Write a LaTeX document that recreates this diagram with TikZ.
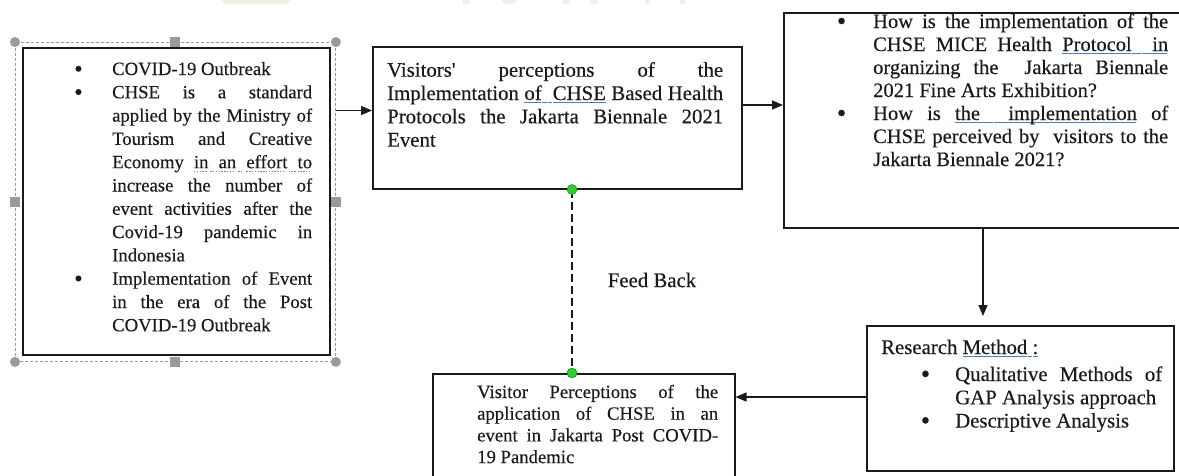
\documentclass[tikz,border=0pt]{standalone}
\usepackage{fontspec}
\setmainfont{Liberation Serif}[Ligatures=TeXOff, FakeBold=0.3]
\usetikzlibrary{arrows.meta}
\definecolor{ink}{HTML}{1A1A1A}
\definecolor{gblue}{HTML}{4F7FBF}
\definecolor{gdotc}{HTML}{7A7AC0}
\definecolor{hgray}{HTML}{9A9A9A}
\definecolor{dotgreen}{HTML}{2ECC2E}
\definecolor{wmark}{HTML}{F3EDE3}
% underline marks (no ulem available)
\newcommand\GM{\hbox{{\color{gblue}\rule[-3.2pt]{1pt}{1.1pt}}}}
\newcommand\DM{\hbox{{\color{gdotc}\rule[-3.4pt]{1.4pt}{0.9pt}}\kern1.4pt}}
\newcommand\uw[2]{\setbox0=\hbox{#2}\rlap{\hbox to\wd0{\leaders#1\hfil}}\box0\relax}
\newcommand\us[1]{\leaders#1\hskip\fontdimen2\font plus\fontdimen3\font minus\fontdimen4\font\relax}
\newcommand\J[1]{\hbox to\hsize{#1}}
\newcommand\R[1]{\hbox{#1}}
\newcommand\Lines[2]{\vtop{\hsize=#1\relax\parindent=0pt\parskip=0pt #2}}
\newcommand\bul[1]{\llap{\raisebox{-1.8pt}{\scalebox{1.3}{•}}\kern#1}}
\tikzset{
  boxn/.style={draw=ink, line width=1.5pt, inner sep=0pt, anchor=north west, fill=none},
  txtA/.style={font=\fontsize{18.7pt}{23.3pt}\selectfont, inner sep=0pt, anchor=base west, text=ink},
  txtB/.style={font=\fontsize{20.8pt}{23.3pt}\selectfont, inner sep=0pt, anchor=base west, text=ink},
  txtD/.style={font=\fontsize{20.5pt}{23pt}\selectfont, inner sep=0pt, anchor=base west, text=ink},
  txtC/.style={font=\fontsize{18.7pt}{21.7pt}\selectfont, inner sep=0pt, anchor=base west, text=ink},
  arr/.style={draw=ink, line width=1.3pt, -{Triangle[length=11pt,width=9pt]}},
  fbline/.style={draw=ink, line width=1.2pt, dash pattern=on 8pt off 4pt},
  gdot/.style={circle, fill=dotgreen, draw=green!50!black, line width=0.4pt, minimum size=10pt, inner sep=0pt},
  hcirc/.style={circle, fill=hgray, minimum size=10pt, inner sep=0pt},
  hsq/.style={rectangle, fill=hgray, minimum size=10pt, inner sep=0pt},
  selframe/.style={draw=hgray, line width=0.9pt, dash pattern=on 3pt off 2pt, inner sep=0pt, anchor=north west},
}
\begin{document}
\begin{tikzpicture}[x=1pt,y=-1pt]
\useasboundingbox (0,0) rectangle (1179,475);
\fill[white] (0,0) rectangle (1179,475);
\clip (0,0) rectangle (1179,475);
% faint watermark slivers at the top edge
\fill[wmark] (222,0) -- (290,0) -- (287,3.5) -- (225,3.5) -- cycle;
\fill[wmark] (463,0) rectangle (470,3.5);
\fill[wmark] (502,0) -- (517,0) -- (514,3.5) -- (505,3.5) -- cycle;
\fill[wmark] (563,0) rectangle (570,3.5);
\fill[wmark] (590,0) rectangle (598,3.5);
\fill[wmark] (645,0) rectangle (650,3.5);
\fill[wmark] (680,0) rectangle (685,3.5);

% selection frame around box 1
\node[selframe, minimum width=320pt, minimum height=319pt] (sel) at (15,42) {};
% boxes
\node[boxn, minimum width=307pt, minimum height=307pt, line width=1.8pt] (b1) at (22,47) {};
\node[boxn, minimum width=369pt, minimum height=142pt] (b2) at (372,46) {};
\node[boxn, minimum width=410pt, minimum height=215pt] (b3) at (783,12) {};
\node[boxn, minimum width=307pt, minimum height=145pt] (b4) at (866,325) {};
\node[boxn, minimum width=302pt, minimum height=115pt] (b5) at (432,373) {};

% handles
\node[hcirc] (h1) at (sel.north west) {};
\node[hcirc] (h2) at (sel.north east) {};
\node[hcirc] (h3) at (sel.south west) {};
\node[hcirc] (h4) at (sel.south east) {};
\node[hsq] (h5) at (sel.north) {};
\node[hsq] (h6) at (sel.south) {};
\node[hsq] (h7) at (sel.west) {};
\node[hsq] (h8) at (sel.east) {};

% texts
\node[txtA] (t1) at (112,75) {\Lines{200pt}{%
\R{\bul{29.5pt}COVID-19 Outbreak}
\J{\bul{29.5pt}CHSE is a standard}
\J{applied by the Ministry of}
\J{Tourism and Creative}
\J{Economy \uw\DM{in}\us\DM\uw\DM{an}\us\DM\uw\DM{effort}\us\DM\uw\DM{to}}
\J{increase the number of}
\J{event activities after the}
\J{Covid-19 pandemic in}
\R{Indonesia}
\J{\bul{29.5pt}Implementation of Event}
\J{in the era of the Post}
\R{COVID-19 Outbreak}}};

\node[txtB] (t2) at (387,76.7) {\Lines{336pt}{%
\J{Visitors' perceptions of the}
\J{Implementation \uw\GM{of}\us\GM\us\GM\uw\GM{CHSE} Based Health}
\J{Protocols the Jakarta Biennale 2021}
\R{Event}}};

\node[txtD] (t3) at (873,28) {\Lines{295pt}{%
\J{\bul{27pt}How is the implementation of the}
\J{CHSE MICE Health \uw\GM{Protocol}\us\GM\us\GM\uw\GM{in}}
\J{organizing the\ \ Jakarta Biennale}
\R{2021 Fine Arts Exhibition?}
\J{\bul{27pt}How is \uw\GM{the}\us\GM\us\GM\uw\GM{implementation} of}
\J{CHSE perceived by\ \ visitors to the}
\R{Jakarta Biennale 2021?}}};

\node[txtB] (t4a) at (881,354) {Research \uw\GM{Method}\us\GM\uw\GM{:}};
\node[txtB] (t4b) at (955,381) {\Lines{207pt}{%
\J{\bul{25pt}Qualitative Methods of}
\R{GAP Analysis approach}}};
\node[txtB] (t4c) at (955,427.5) {\bul{25pt}Descriptive Analysis};

\node[txtC] (t5) at (477,398) {\Lines{241pt}{%
\J{Visitor Perceptions of the}
\J{application of CHSE in an}
\J{event in Jakarta Post COVID-}
\R{19 Pandemic}}};

\node[txtB, anchor=center] (fb) at (652,280) {Feed Back};

% connectors
\coordinate (y12) at (0,110.5);
\draw[arr] (sel.east |- y12) -- (b2.west |- y12);
\coordinate (y23) at (0,105);
\draw[arr] (b2.east |- y23) -- (b3.west |- y23);
\coordinate (x34) at (983,0);
\draw[arr] (b3.south -| x34) -- ([yshift=9pt]b4.north -| x34);
\coordinate (y45) at (0,397);
\draw[arr] (b4.west |- y45) -- (b5.east |- y45);
\coordinate (xfb) at (572,0);
\draw[fbline] (b2.south -| xfb) -- (b5.north -| xfb);
\node[gdot] (d1) at (b2.south -| xfb) {};
\node[gdot] (d2) at (b5.north -| xfb) {};
\end{tikzpicture}
\end{document}
